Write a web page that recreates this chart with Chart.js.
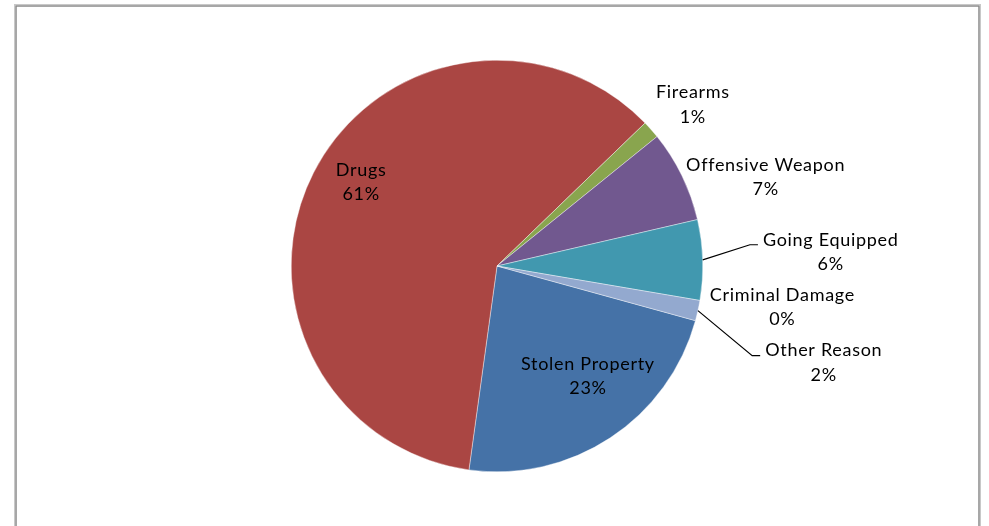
<!DOCTYPE html>
<html>
<head>
<meta charset="utf-8">
<script src="https://cdn.jsdelivr.net/npm/chart.js@4.4.0/dist/chart.umd.min.js"></script>
<style>
  html, body { margin: 0; padding: 0; background: #ffffff; }
  #wrap { width: 989px; height: 526px; position: relative; }
</style>
</head>
<body>
<div id="wrap"><canvas id="c" width="989" height="526"></canvas></div>
<script>
// ---- data ----
const categories = ["Stolen Property", "Drugs", "Firearms", "Offensive Weapon", "Going Equipped", "Criminal Damage", "Other Reason"];
const shares = [22.9, 60.6, 1.4, 7.2, 6.3, 0, 1.6];
const sliceColors = ["#4572A7", "#AA4643", "#89A54E", "#71588F", "#4198AF", "#DB843D", "#93A9CF"];

// label placement: polar offset from slice mid-angle (deg), radius factor; leader = draw elbow line
const labelPlacement = [
  { dAng: -6.1, f: 0.695 },
  { dAng: 4.8, f: 0.776 },
  { dAng: 2.0, f: 1.233 },
  { dAng: 7.7, f: 1.375 },
  { dAng: -0.7, f: 1.623, leader: true },
  { dAng: -1.4, f: 1.401 },
  { dAng: 4.0, f: 1.656, leader: true }
];

const FONT = '18px Lato, "Open Sans", sans-serif';
const LETTER_SPACING = '0.7px';
const LINE_GAP = 24.5;

const frame = {
  id: 'frame',
  beforeDraw(chart) {
    const ctx = chart.ctx;
    ctx.save();
    ctx.fillStyle = '#ffffff';
    ctx.fillRect(0, 0, chart.width, chart.height);
    ctx.strokeStyle = '#c8c8c8';
    ctx.lineWidth = 1;
    ctx.strokeRect(14.5, 4.5, 966, 560);
    ctx.strokeStyle = '#8a8a8a';
    ctx.lineWidth = 1.5;
    ctx.strokeRect(16, 6, 963, 560);
    ctx.restore();
  }
};

const pieLabels = {
  id: 'pieLabels',
  afterDatasetsDraw(chart) {
    const ctx = chart.ctx;
    const meta = chart.getDatasetMeta(0);
    const data = chart.data.datasets[0].data;
    const total = data.reduce((a, b) => a + b, 0);
    ctx.save();
    ctx.font = FONT;
    try { ctx.letterSpacing = LETTER_SPACING; } catch (e) {}
    ctx.fillStyle = '#000000';
    ctx.textAlign = 'center';
    ctx.textBaseline = 'middle';
    meta.data.forEach((arc, i) => {
      const p = arc.getProps(['x', 'y', 'startAngle', 'endAngle', 'outerRadius'], true);
      const mid = (p.startAngle + p.endAngle) / 2;
      const pl = labelPlacement[i];
      const a = mid + pl.dAng * Math.PI / 180;
      const cx = p.x + Math.cos(a) * p.outerRadius * pl.f;
      const cy = p.y + Math.sin(a) * p.outerRadius * pl.f;
      const pct = Math.round(data[i] / total * 100) + '%';
      const name = chart.data.labels[i];
      const y1 = cy - LINE_GAP / 2, y2 = cy + LINE_GAP / 2;
      ctx.fillText(name, cx, y1);
      ctx.fillText(pct, cx, y2);
      if (pl.leader) {
        const w = ctx.measureText(name).width;
        const left = cx - w / 2;
        const ex = left - 5, ey = y1 + 5;
        const sx = p.x + Math.cos(mid) * p.outerRadius;
        const sy = p.y + Math.sin(mid) * p.outerRadius;
        ctx.beginPath();
        ctx.strokeStyle = '#000000';
        ctx.lineWidth = 1.2;
        ctx.moveTo(sx, sy);
        ctx.lineTo(ex - 8, ey);
        ctx.lineTo(ex, ey);
        ctx.stroke();
      }
    });
    ctx.restore();
  }
};

new Chart(document.getElementById('c'), {
  type: 'pie',
  data: {
    labels: categories,
    datasets: [{
      data: shares,
      backgroundColor: sliceColors,
      borderColor: '#ffffff',
      borderWidth: 0.4
    }]
  },
  options: {
    responsive: false,
    animation: false,
    rotation: 105.4,
    layout: { padding: { left: 100, right: 95, top: 60, bottom: 54 } },
    plugins: {
      legend: { display: false },
      tooltip: { enabled: false },
      title: { display: false }
    }
  },
  plugins: [frame, pieLabels]
});
</script>
</body>
</html>
